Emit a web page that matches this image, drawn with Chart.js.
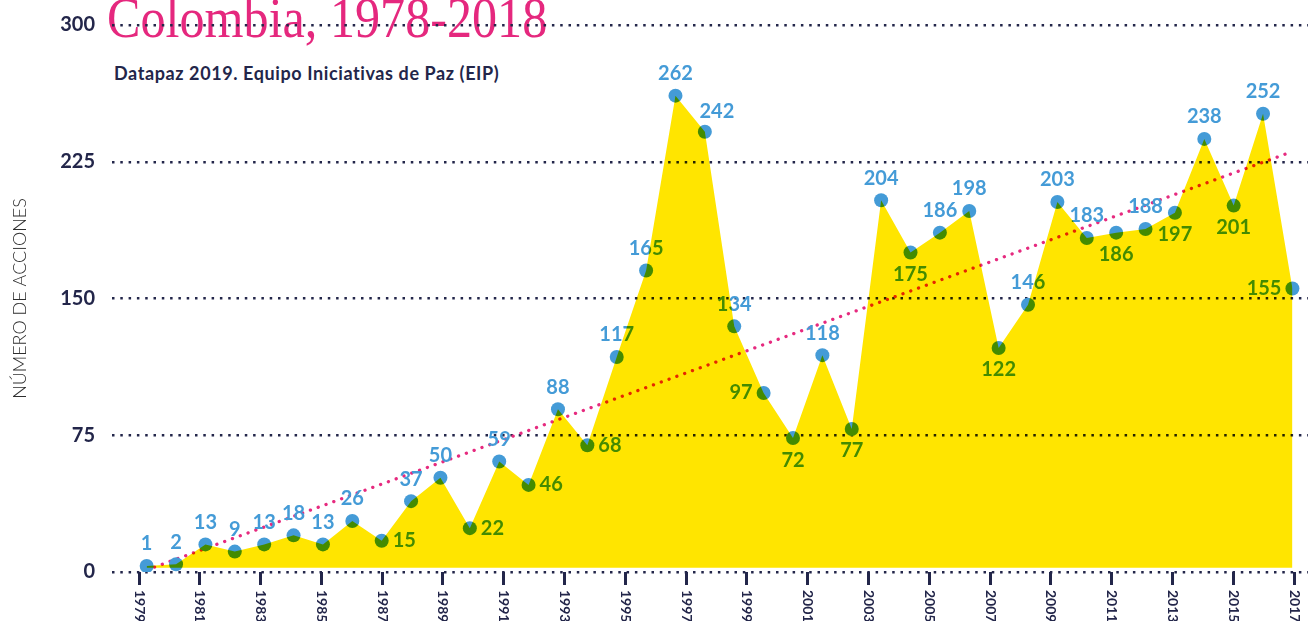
<!DOCTYPE html>
<html lang="es">
<head>
<meta charset="utf-8">
<title>Colombia, 1978-2018</title>
<script src="https://cdn.jsdelivr.net/npm/chart.js@4.4.1/dist/chart.umd.min.js"></script>
<style>
  html, body { margin: 0; padding: 0; background: #fff; overflow: hidden; }
  #wrap { position: relative; width: 1308px; height: 621px; }
  #title {
    position: absolute; left: 107px; top: -11px; z-index: 0;
    font-family: "Liberation Serif", serif; font-size: 57px; line-height: 1;
    color: #e5287e; white-space: nowrap; transform-origin: left top; transform: scaleX(0.88);
  }
  #source {
    position: absolute; left: 114px; top: 64px; z-index: 0;
    font-family: Lato, sans-serif; font-weight: 700; font-size: 18px; line-height: 1;
    letter-spacing: 0.6px; color: #23264a; white-space: nowrap;
  }
  #chart { position: absolute; left: 0; top: 0; z-index: 1; }
</style>
</head>
<body>
<div id="wrap">
  <div id="title">Colombia, 1978-2018</div>
  <div id="source">Datapaz 2019. Equipo Iniciativas de Paz (EIP)</div>
  <canvas id="chart" width="1308" height="621"></canvas>
</div>
<script>
// datos: número de acciones colectivas por la paz
const years = [1979, 1980, 1981, 1982, 1983, 1984, 1985, 1986, 1987, 1988,
  1989, 1990, 1991, 1992, 1993, 1994, 1995, 1996, 1997, 1998,
  1999, 2000, 2001, 2002, 2003, 2004, 2005, 2006, 2007, 2008,
  2009, 2010, 2011, 2012, 2013, 2014, 2015, 2016, 2017, 2018];
const acciones = [1, 2, 13, 9, 13, 18, 13, 26, 15, 37,
  50, 22, 59, 46, 88, 68, 117, 165, 262, 242,
  134, 97, 72, 118, 77, 204, 175, 186, 198, 122,
  146, 203, 183, 186, 188, 197, 238, 201, 252, 155];
// where each value label sits: t=top b=bottom r=right l=left tr=top right
const labelPos = ['t', 't', 't', 't', 't', 't', 't', 't', 'r', 't',
  't', 'r', 't', 'r', 't', 'r', 't', 't', 't', 'tr',
  't', 'l', 'b', 't', 'b', 't', 'b', 't', 't', 'b',
  't', 't', 't', 'b', 't', 'b', 't', 'b', 't', 'l'];
// linear trend, start and end values
const trendEnds = [-1.2, 231];
const tickYears = [1979, 1981, 1983, 1985, 1987, 1989, 1991, 1993, 1995, 1997,
  1999, 2001, 2003, 2005, 2007, 2009, 2011, 2013, 2015, 2017];
const yTicks = [0, 75, 150, 225, 300];

const NAVY = '#23264a';
const BLUE = '#449bd7';
const YELLOW = '#ffe500';
const PINK = '#e62a7f';

function drawValueLabels(chart) {
  const ctx = chart.ctx;
  const meta = chart.getDatasetMeta(1);
  ctx.save();
  ctx.font = 'bold 20px Lato';
  ctx.fillStyle = BLUE;
  ctx.textBaseline = 'middle';
  meta.data.forEach((pt, i) => {
    const pos = labelPos[i] || 't';
    let x = pt.x, y = pt.y;
    ctx.textAlign = 'center';
    if (pos === 't') y -= 22;
    else if (pos === 'b') y += 22;
    else if (pos === 'r') { x += 11; ctx.textAlign = 'left'; }
    else if (pos === 'l') { x -= 11; ctx.textAlign = 'right'; }
    else if (pos === 'tr') { x += 12; y -= 20; }
    ctx.fillText(String(acciones[i]), x, y);
  });
  ctx.restore();
}

// labels first, then the yellow area multiplied over everything below it
const blendPlugin = {
  id: 'blend',
  afterDatasetDraw(chart, args) {
    if (args.index === 1) {
      drawValueLabels(chart);
      chart.ctx.globalCompositeOperation = 'multiply';
    } else if (args.index === 0) {
      chart.ctx.globalCompositeOperation = 'source-over';
    }
  },
  afterDraw(chart) {
    const ctx = chart.ctx;
    const sc = chart.scales.xt;
    ctx.save();
    ctx.font = 'bold 14px Lato';
    ctx.fillStyle = NAVY;
    ctx.textAlign = 'left';
    ctx.textBaseline = 'middle';
    tickYears.forEach(yr => {
      ctx.save();
      ctx.translate(sc.getPixelForValue(yr), 590);
      ctx.rotate(Math.PI / 2);
      ctx.fillText(String(yr), 0, 0);
      ctx.restore();
    });
    ctx.restore();
  }
};

const points = acciones.map((v, i) => ({ x: years[i], y: v }));

new Chart(document.getElementById('chart'), {
  type: 'line',
  data: {
    datasets: [
      {
        data: points, xAxisID: 'xd', yAxisID: 'yd', order: 0,
        fill: 'origin', backgroundColor: YELLOW, borderColor: 'rgba(0,0,0,0)', borderWidth: 0,
        pointRadius: 0, tension: 0,
      },
      {
        data: points, xAxisID: 'xd', yAxisID: 'yd', order: 1, showLine: false,
        pointRadius: 7, pointBackgroundColor: BLUE, pointBorderWidth: 0, fill: false,
      },
      {
        data: [{ x: years[0], y: trendEnds[0] }, { x: years[years.length - 1], y: trendEnds[1] }],
        xAxisID: 'xd', yAxisID: 'yd', order: 2, fill: false,
        borderColor: PINK, borderWidth: 3.3, borderDash: [0.1, 8.2], borderCapStyle: 'round',
        pointRadius: 0,
      },
    ],
  },
  options: {
    responsive: false,
    animation: false,
    events: [],
    layout: { autoPadding: false, padding: { top: 25, left: 0, right: 0, bottom: 0 } },
    plugins: { legend: { display: false }, tooltip: { enabled: false } },
    scales: {
      xd: { type: 'linear', display: false, min: 1977.82, max: 2018.53 },
      yd: { type: 'linear', display: false, min: -2.33, max: 301.22 },
      xt: {
        type: 'linear', position: 'bottom', min: 1978.11, max: 2017.46,
        afterBuildTicks: s => { s.ticks = tickYears.map(v => ({ value: v })); },
        afterFit: s => { s.height = 49; s.paddingLeft = 0; s.paddingRight = 0; },
        ticks: { display: false },
        grid: { display: true, drawOnChartArea: false, drawTicks: true, tickLength: 13, lineWidth: 3, color: NAVY },
        border: { display: false },
      },
      y: {
        type: 'linear', position: 'left', min: 0, max: 300,
        afterBuildTicks: s => { s.ticks = yTicks.map(v => ({ value: v })); },
        afterFit: s => { s.width = 112; s.paddingTop = 0; s.paddingBottom = 0; },
        ticks: { color: NAVY, padding: 17, font: { family: 'Lato', weight: 'bold', size: 20 } },
        grid: { color: NAVY, lineWidth: 2.5, drawTicks: false },
        border: { display: false, dash: [2.5, 5.8] },
        title: {
          display: true, text: 'NÚMERO DE ACCIONES', color: '#2e2e2e',
          font: { family: 'Lato', weight: 300, size: 18 }, padding: { top: 9 },
        },
      },
    },
  },
  plugins: [blendPlugin],
});
</script>
</body>
</html>
